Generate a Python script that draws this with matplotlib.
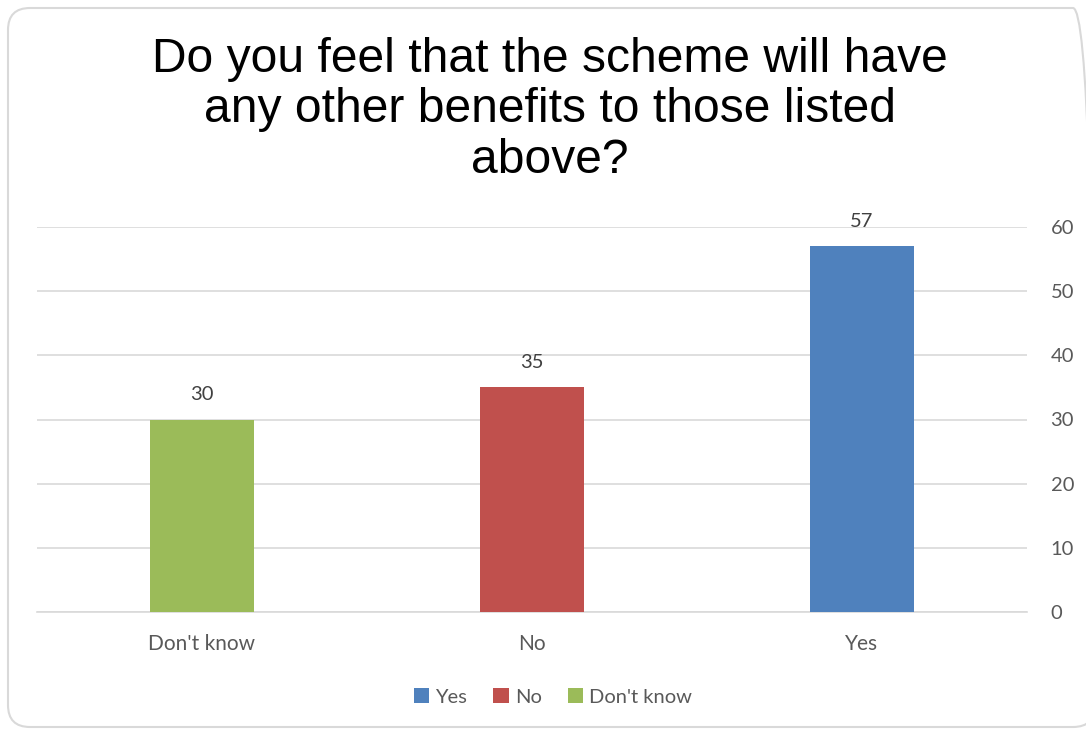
import matplotlib.pyplot as plt
from matplotlib.patches import FancyBboxPatch, Patch
from matplotlib.transforms import IdentityTransform

categories = ["Don't know", "No", "Yes"]
values = [30, 35, 57]
colors = ["#9bbb59", "#c0504d", "#4f81bd"]
legend_order = ["Yes", "No", "Don't know"]
yticks = [0, 10, 20, 30, 40, 50, 60]
title = "Do you feel that the scheme will have\nany other benefits to those listed\nabove?"

fig = plt.figure(figsize=(10.86, 7.29), dpi=100)

# chart border with rounded corners, in pixel units
border = FancyBboxPatch((8, 2), 1087, 719, boxstyle="round,pad=0,rounding_size=22",
                        transform=IdentityTransform(), facecolor="none",
                        edgecolor="#d9d9d9", linewidth=1.5, zorder=-1)
fig.patches.append(border)

ax = fig.add_axes([37 / 1086, 1 - 612 / 729, 990 / 1086, 385 / 729])
ax.set_facecolor("none")

x = range(len(categories))
bars = ax.bar(x, values, width=0.315, color=colors, zorder=3)
for b, v in zip(bars, values):
    ax.annotate(str(v), (b.get_x() + b.get_width() / 2, v), xytext=(0, 12),
                textcoords="offset points", ha="center", va="bottom",
                fontsize=14.5, color="#404040", family="Lato")

ax.set_xlim(-0.5, 2.5)
ax.set_ylim(0, 60)
ax.set_yticks(yticks)
ax.yaxis.tick_right()
ax.set_xticks(list(x))
ax.set_xticklabels(categories)
ax.grid(axis="y", color="#d9d9d9", linewidth=1.2, zorder=0)
ax.tick_params(axis="y", length=0, pad=17, labelsize=14.5, labelcolor="#595959")
ax.tick_params(axis="x", length=0, pad=16, labelsize=15, labelcolor="#595959")
for lab in ax.get_xticklabels() + ax.get_yticklabels():
    lab.set_family("Lato")
for s in ["top", "left", "right"]:
    ax.spines[s].set_visible(False)
ax.spines["bottom"].set_color("#d9d9d9")
ax.spines["bottom"].set_linewidth(1.2)

fig.text(550 / 1086, 1 - 110 / 729, title, ha="center", va="center",
         fontsize=34.6, family="Liberation Sans", color="black", linespacing=1.17)

color_of = dict(zip(categories, colors))
handles = [Patch(facecolor=color_of[c], label=c) for c in legend_order]
fig.legend(handles=handles, loc="center", bbox_to_anchor=(553 / 1086, 1 - 697 / 729),
           ncol=3, frameon=False, handlelength=0.75, handleheight=0.75,
           handletextpad=0.3, columnspacing=1.3, prop={"family": "Lato", "size": 14.5},
           labelcolor="#595959")

fig.savefig("out.png", dpi=100)
